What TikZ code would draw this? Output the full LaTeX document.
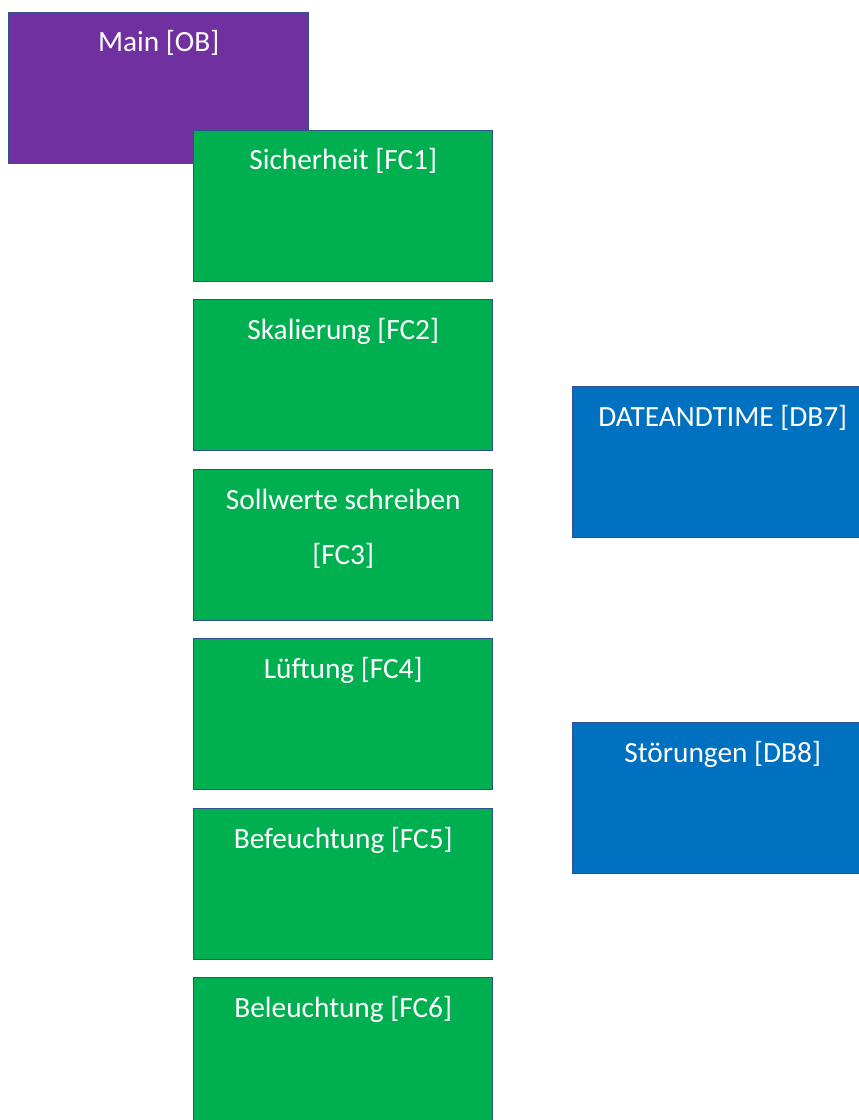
\documentclass[tikz,border=0pt]{standalone}
\usepackage{fontspec}
\setmainfont{Carlito}

\definecolor{obpurple}{HTML}{7030A0}
\definecolor{fcgreen}{HTML}{00B050}
\definecolor{dbblue}{HTML}{0070C0}
\definecolor{edgeblue}{HTML}{2F528F}

\begin{document}
\begin{tikzpicture}[ x=0.75pt, y=-0.75pt, block/.style={
          draw=edgeblue, line width=1.1pt, anchor=north west,
          minimum width=224.25pt, minimum height=113.25pt, inner sep=0pt },
        title/.style={ text=white, anchor=base, align=center, inner sep=0pt,
          font=\fontsize{22}{41.25}\selectfont } ]
        \useasboundingbox (0,0) rectangle (859,1120);
        \clip (0,0) rectangle (859,1120);

        \node[block,fill=obpurple,minimum width=225pt] (ob) at (8,12) {};
        \node[title] (obt) at ([yshift=-30pt]ob.north) {Main [OB]};

        \foreach \y/\n/\l in {130/1/Sicherheit [FC1],299/2/Skalierung [FC2],
          469/3/{\begin{tabular}[t]{@{}c@{}}Sollwerte schreiben\\ {[FC3]}\end{tabular}},
          638/4/Lüftung [FC4],808/5/Befeuchtung [FC5],977/6/Beleuchtung [FC6]} {
        \node[block,fill=fcgreen] (fc\n) at (193,\y) {};
        \node[title] (fc\n t) at ([yshift=-30pt]fc\n.north) {\l}; }

        \foreach \y/\n/\l in {386/7/DATEANDTIME [DB7],722/8/Störungen [DB8]} {
        \node[block,fill=dbblue,minimum width=225pt] (db\n) at (572,\y) {};
        \node[title] (db\n t) at ([yshift=-30pt]db\n.north) {\l}; }
      \end{tikzpicture}
\end{document}
